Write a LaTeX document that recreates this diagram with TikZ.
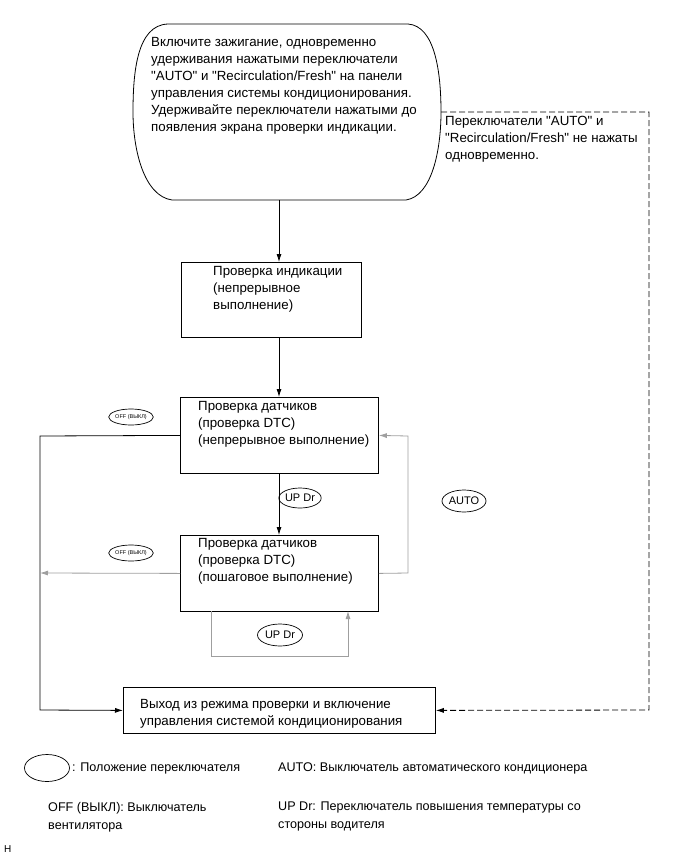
\documentclass[tikz,border=0pt]{standalone}
\usepackage{fontspec}
\setmainfont{Liberation Sans}
\newfontfamily\arialfont{Liberation Sans}
\usetikzlibrary{arrows.meta,shapes.geometric}

\tikzset{
  box/.style={draw, line width=0.8pt, rectangle, anchor=north west, inner sep=0pt},
  txt/.style={anchor=north west, inner sep=0pt, align=left, font=\fontsize{13.3}{17}\selectfont},
  legtxt/.style={inner sep=0pt, align=left, font=\fontsize{12.6}{18}\selectfont},
  sw/.style={draw, ellipse, line width=0.7pt, inner sep=0pt},
  arr/.style={-{Latex[length=8pt,width=5pt]}, line width=0.8pt},
  garr/.style={arr, draw=gray!75},
}

\begin{document}
\arialfont
\begin{tikzpicture}[x=1pt,y=-1pt]
\useasboundingbox (0,0) rectangle (690,854);

% start block
\draw [line width=0.8pt] (168,24) .. controls (137,25) and (133,72) .. (133,112)
   .. controls (133,150) and (144,196) .. (172,200) -- (406,200)
   .. controls (432,196) and (441,150) .. (441,112)
   .. controls (441,72) and (435,26) .. (408,24) -- cycle;
\node (start) [txt] at (151,37) {Включите зажигание, одновременно\\
удерживания нажатыми переключатели\\
"AUTO" и "Recirculation/Fresh" на панели\\
управления системы кондиционирования.\\
Удерживайте переключатели нажатыми до\\
появления экрана проверки индикации.};
\coordinate (startb) at (279,200);
\coordinate (startr) at (441,112);

% boxes
\node (ind) [box, minimum width=180pt, minimum height=75pt] at (181,262) {};
\node (indt) [txt] at (213,266) {Проверка индикации\\(непрерывное\\выполнение)};

\node (sens1) [box, minimum width=198pt, minimum height=76pt] at (180,397) {};
\node (sens1t) [txt] at (198,401) {Проверка датчиков\\(проверка DTC)\\(непрерывное выполнение)};

\node (sens2) [box, minimum width=198pt, minimum height=76pt] at (180,535) {};
\node (sens2t) [txt] at (198,538) {Проверка датчиков\\(проверка DTC)\\(пошаговое выполнение)};

\node (exit) [box, minimum width=312pt, minimum height=46pt] at (123,687) {};
\node (exitt) [txt] at (140,699) {Выход из режима проверки и включение\\управления системой кондиционирования};

% switch labels
\node (off1) [sw, minimum width=44pt, minimum height=16pt, font=\fontsize{5.5}{6}\selectfont] at (131,417) {OFF (ВЫКЛ)};
\node (off2) [sw, minimum width=44pt, minimum height=16pt, font=\fontsize{5.5}{6}\selectfont] at (131,553) {OFF (ВЫКЛ)};
\node (updr1) [sw, minimum width=34pt, minimum height=20pt, font=\fontsize{11}{12}\selectfont] at (300,498) {UP Dr};
\node (updr2) [sw, minimum width=45pt, minimum height=22pt, font=\fontsize{11}{12}\selectfont] at (280,635) {UP Dr};
\node (auto) [sw, minimum width=44pt, minimum height=22pt, font=\fontsize{11}{12}\selectfont] at (464,501) {AUTO};

% connectors
\draw [arr] (startb) -- (startb |- ind.north);
\draw [arr] (startb |- ind.south) -- (startb |- sens1.north);
\draw [arr] (startb |- sens1.south) -- (startb |- sens2.north);

\draw [arr] (sens1.west) -- (40,436) -- (40,710) -- (exit.west);
\draw [garr] (sens2.west) -- (40,573);
\draw [garr] (sens2.east) -- (408,573) -- (408,436) -- (sens1.east);
\draw [garr] (211,611) -- (211,656) -- (348,656) -- (348,611);

\draw [arr, dash pattern=on 6pt off 3pt] (startr) -- (649,112) -- (649,710) -- (exit.east);
\node (nopress) [txt] at (445,116) {Переключатели "AUTO" и\\"Recirculation/Fresh" не нажаты\\одновременно.};

% legend
\node (legsw) [sw, minimum width=45pt, minimum height=27pt] at (47,768) {};
\node (leg1) [legtxt, anchor=west] at (72,768) {: Положение переключателя};
\node (leg2) [legtxt, anchor=west] at (278,768) {AUTO: Выключатель автоматического кондиционера};
\node (leg3) [legtxt, anchor=north west] at (48,802) {OFF (ВЫКЛ): Выключатель\\вентилятора};
\node (leg4) [legtxt, anchor=north west] at (278,802) {UP Dr: Переключатель повышения температуры со\\стороны водителя};
\node (hmark) [anchor=west, inner sep=0pt, font=\fontsize{10}{10}\selectfont] at (4,849) {H};

\end{tikzpicture}
\end{document}
